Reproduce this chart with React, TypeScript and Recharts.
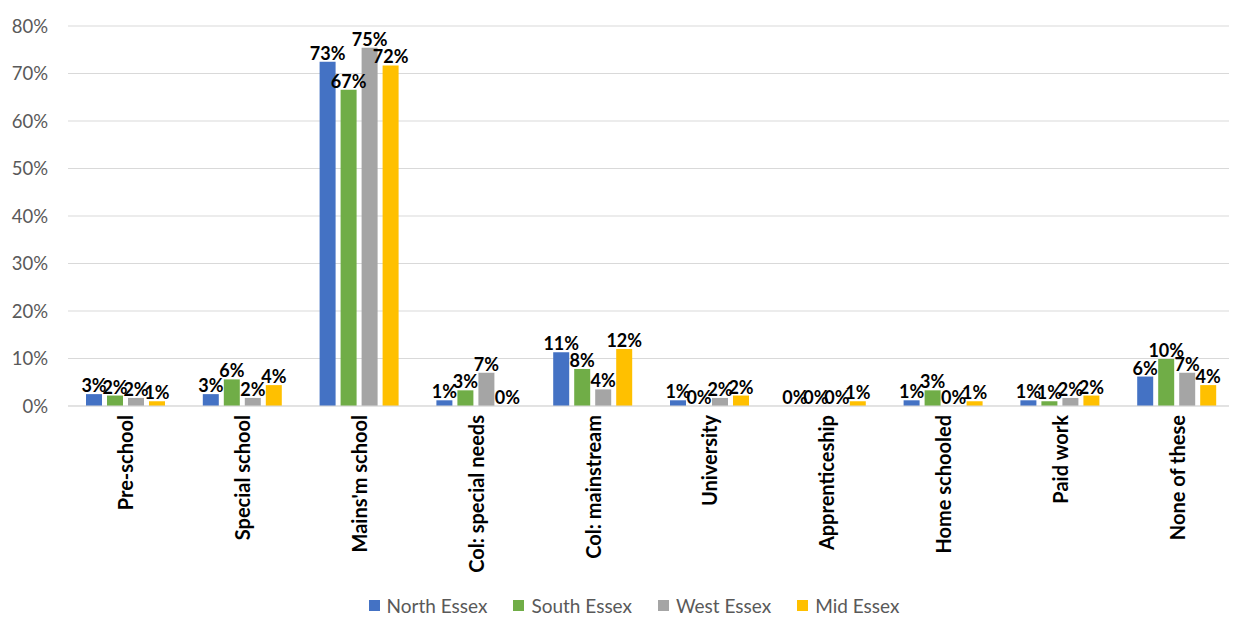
import React from "react";
import {
  Bar,
  BarChart,
  CartesianGrid,
  LabelList,
  Legend,
  XAxis,
  YAxis,
} from "recharts";

const categories = [
  "Pre-school",
  "Special school",
  "Mains'm school",
  "Col: special needs",
  "Col: mainstream",
  "University",
  "Apprenticeship",
  "Home schooled",
  "Paid work",
  "None of these",
];

const northEssex = [2.5, 2.5, 72.5, 1.2, 11.3, 1.2, 0, 1.2, 1.2, 6.2];
const southEssex = [2.2, 5.6, 66.6, 3.3, 7.8, 0, 0, 3.3, 1.0, 9.9];
const westEssex = [1.7, 1.7, 75.4, 7.0, 3.5, 1.7, 0, 0, 1.7, 7.0];
const midEssex = [1.0, 4.4, 71.7, 0, 12.0, 2.2, 1.0, 1.0, 2.2, 4.4];

const yTicks = [0, 10, 20, 30, 40, 50, 60, 70, 80];

const series = [
  { key: "north", name: "North Essex", color: "#4472C4" },
  { key: "south", name: "South Essex", color: "#70AD47" },
  { key: "west", name: "West Essex", color: "#A5A5A5" },
  { key: "mid", name: "Mid Essex", color: "#FFC000" },
];

const data = categories.map((name, i) => ({
  name,
  north: northEssex[i],
  south: southEssex[i],
  west: westEssex[i],
  mid: midEssex[i],
}));

const FONT = "Lato, 'Open Sans', sans-serif";

function CategoryTick({ x, y, payload }: any) {
  return (
    <text
      x={x}
      y={y}
      transform={`rotate(-90, ${x}, ${y})`}
      dx={-1}
      dy={7}
      textAnchor="end"
      fontFamily={FONT}
      fontWeight="bold"
      fontSize={20}
      fill="#000"
    >
      {payload.value}
    </text>
  );
}

function LegendContent() {
  return (
    <div
      style={{
        display: "flex",
        justifyContent: "center",
        alignItems: "center",
        paddingLeft: 24,
        paddingTop: 6,
        height: 24,
        fontFamily: FONT,
        fontSize: 19,
        color: "#595959",
      }}
    >
      {series.map((s) => (
        <div key={s.key} style={{ display: "flex", alignItems: "center", margin: "0 13px" }}>
          <span
            style={{
              display: "inline-block",
              width: 11,
              height: 11,
              background: s.color,
              marginRight: 7,
            }}
          />
          {s.name}
        </div>
      ))}
    </div>
  );
}

export default function App() {
  return (
    <div style={{ background: "#fff" }}>
      <BarChart
        width={1229}
        height={609}
        data={data}
        margin={{ top: 18, right: 1, left: 0, bottom: 0 }}
        barCategoryGap={18}
        barGap={5}
      >
        <CartesianGrid vertical={false} stroke="#D9D9D9" />
        <XAxis
          dataKey="name"
          interval={0}
          height={181}
          tickLine={false}
          axisLine={{ stroke: "#D9D9D9" }}
          tick={<CategoryTick />}
        />
        <YAxis
          width={60}
          domain={[0, 80]}
          ticks={yTicks}
          tickFormatter={(v: number) => `${v}%`}
          axisLine={false}
          tickLine={false}
          tickMargin={14}
          tick={{ fontFamily: FONT, fontSize: 18.5, fill: "#595959" }}
        />
        <Legend verticalAlign="bottom" height={30} content={<LegendContent />} />
        {series.map((s) => (
          <Bar
            key={s.key}
            dataKey={s.key}
            name={s.name}
            fill={s.color}
            minPointSize={0.01}
            isAnimationActive={false}
          >
            <LabelList
              dataKey={s.key}
              position="top"
              offset={2}
              formatter={(v: number) => `${Math.round(v)}%`}
              style={{ fontFamily: FONT, fontWeight: "bold", fontSize: 18, fill: "#000" }}
            />
          </Bar>
        ))}
      </BarChart>
    </div>
  );
}
